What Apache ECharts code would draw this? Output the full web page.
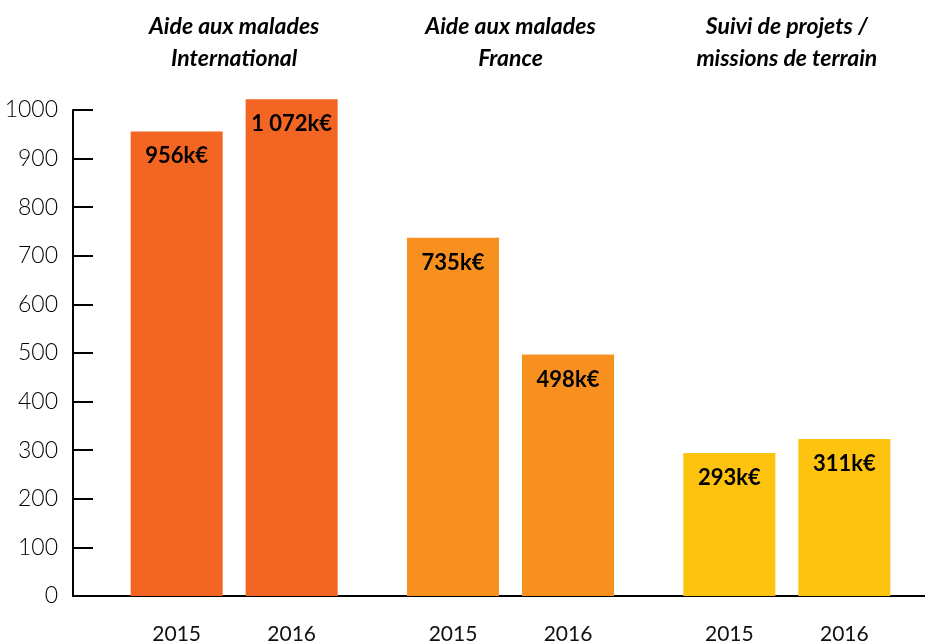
<!DOCTYPE html>
<html>
<head>
<meta charset="utf-8">
<script src="https://cdn.jsdelivr.net/npm/echarts@6/dist/echarts.min.js"></script>
<style>
  html, body { margin: 0; padding: 0; background: #fff; }
  #chart { width: 925px; height: 641px; }
</style>
</head>
<body>
<div id="chart"></div>
<script>
// groups (titles above the bars)
const groups = ['Aide aux malades\nInternational', 'Aide aux malades\nFrance', 'Suivi de projets /\nmissions de terrain'];
const years = ['2015', '2016'];
// bar heights as drawn in the picture
const values2015 = [956, 737, 294];
const values2016 = [1022, 497, 323];
// printed amounts
const labels2015 = ['956k€', '735k€', '293k€'];
const labels2016 = ['1 072k€', '498k€', '311k€'];
const groupColors = ['#F36523', '#F7901E', '#FEC30F'];
const yTicks = [0, 100, 200, 300, 400, 500, 600, 700, 800, 900, 1000];

const chart = echarts.init(document.getElementById('chart'));

const font = 'Lato, "Noto Sans", sans-serif';

const valueSeries = (name, values, labels) => ({
    name: name,
    type: 'bar',
    xAxisIndex: 0,
    clip: false,
    barWidth: 92,
    barGap: '25%',
    data: values.map((v, i) => ({ value: v, itemStyle: { color: groupColors[i] } })),
    label: {
        show: true,
        position: 'insideTop',
        distance: 14,
        formatter: (p) => labels[p.dataIndex],
        fontFamily: font,
        fontWeight: 'bold',
        fontSize: 22,
        color: '#000'
    },
    silent: true
});

const yearSeries = (year, values) => ({
    name: year + ' label',
    type: 'bar',
    xAxisIndex: 1,
    clip: false,
    barWidth: 92,
    barGap: '25%',
    data: values,
    itemStyle: { color: 'transparent' },
    label: {
        show: true,
        position: 'bottom',
        distance: 28,
        formatter: year,
        fontFamily: font,
        fontSize: 21,
        color: '#111'
    },
    silent: true
});

chart.setOption({
    animation: false,
    grid: { left: 96, right: 0, top: 110, bottom: 45 },
    xAxis: [
        {
            type: 'category',
            data: groups,
            position: 'bottom',
            axisLine: { show: true, lineStyle: { color: '#000', width: 2 } },
            axisTick: { show: false },
            axisLabel: { show: false }
        },
        {
            type: 'category',
            data: groups,
            position: 'top',
            axisLine: { show: false },
            axisTick: { show: false },
            axisLabel: {
                margin: 35,
                fontFamily: font,
                fontWeight: 'bold',
                fontStyle: 'italic',
                fontSize: 23,
                lineHeight: 32,
                color: '#000'
            }
        }
    ],
    yAxis: {
        type: 'value',
        min: 0,
        max: 1000,
        interval: 100,
        offset: 23,
        axisLine: { show: true, lineStyle: { color: '#000', width: 2 } },
        axisTick: { show: true, inside: true, length: 20, lineStyle: { color: '#000', width: 2 } },
        axisLabel: {
            margin: 15,
            fontFamily: font,
            fontWeight: 300,
            fontSize: 23,
            color: '#000',
            formatter: (v) => String(v),
            customValues: yTicks
        },
        splitLine: { show: false }
    },
    graphic: [{
        // axis line continues left to meet the y axis
        type: 'line',
        shape: { x1: 72, y1: 596, x2: 97, y2: 596 },
        style: { stroke: '#000', lineWidth: 2 },
        silent: true
    }],
    series: [
        valueSeries(years[0], values2015, labels2015),
        valueSeries(years[1], values2016, labels2016),
        yearSeries(years[0], values2015),
        yearSeries(years[1], values2016)
    ]
});
</script>
</body>
</html>
